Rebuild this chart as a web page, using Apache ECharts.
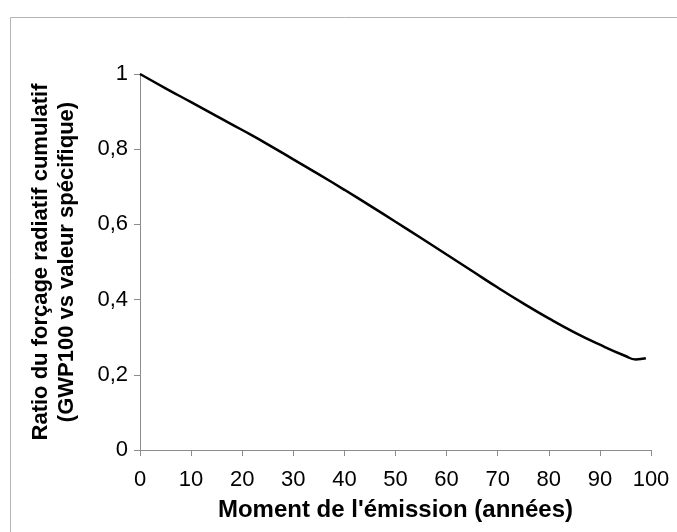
<!DOCTYPE html>
<html>
<head>
<meta charset="utf-8">
<script src="https://cdn.jsdelivr.net/npm/echarts@6/dist/echarts.min.js"></script>
<style>
  html, body { margin: 0; padding: 0; background: #fff; }
  #main { width: 677px; height: 532px; }
</style>
</head>
<body>
<div id="main"></div>
<script>
const chartDom = document.getElementById('main');
const myChart = echarts.init(chartDom);

// Moment of emission (years) and the cumulative forcing ratio
const years = [0, 5, 10, 15, 20, 25, 30, 35, 40, 45, 50, 55, 60, 65, 70, 75, 80, 85, 90, 95, 97, 99];
const ratio = [1.000, 0.962, 0.925, 0.888, 0.851, 0.813, 0.773, 0.733, 0.692, 0.650, 0.607,
               0.564, 0.520, 0.476, 0.432, 0.390, 0.350, 0.313, 0.280, 0.250, 0.241, 0.244];

const xTitle = "Moment de l'émission (années)";
const yTitle = 'Ratio du forçage radiatif cumulatif\n(GWP100 vs valeur spécifique)';

const font = 'Liberation Sans, Arial, sans-serif';
const axisGrey = '#8c8c8c';

const option = {
    animation: false,
    backgroundColor: '#fff',
    graphic: [{
        type: 'rect',
        left: 8,
        top: 15,
        shape: { width: 720, height: 600 },
        style: { fill: 'none', stroke: '#b4b4b4', lineWidth: 1 }
    }],
    grid: { left: 140, right: 26, top: 74, bottom: 82 },
    xAxis: {
        type: 'value',
        min: 0,
        max: 100,
        interval: 10,
        splitLine: { show: false },
        axisLine: { lineStyle: { color: axisGrey } },
        axisTick: { inside: false, length: 6, lineStyle: { color: axisGrey } },
        axisLabel: { color: '#000', fontFamily: font, fontSize: 22, margin: 19 },
        name: xTitle,
        nameLocation: 'middle',
        nameGap: 48,
        nameTextStyle: { color: '#000', fontFamily: font, fontSize: 24, fontWeight: 'bold' }
    },
    yAxis: {
        type: 'value',
        min: 0,
        max: 1,
        interval: 0.2,
        splitLine: { show: false },
        axisLine: { show: true, lineStyle: { color: axisGrey } },
        axisTick: { show: true, inside: false, length: 6, lineStyle: { color: axisGrey } },
        axisLabel: {
            color: '#000', fontFamily: font, fontSize: 22, margin: 12,
            formatter: v => String(Math.round(v * 10) / 10).replace('.', ',')
        },
        name: yTitle,
        nameLocation: 'middle',
        nameRotate: 90,
        nameGap: 60,
        nameTextStyle: { color: '#000', fontFamily: font, fontSize: 22, fontWeight: 'bold', lineHeight: 26 }
    },
    series: [{
        type: 'line',
        data: years.map((y, i) => [y, ratio[i]]),
        smooth: true,
        showSymbol: false,
        lineStyle: { color: '#000', width: 2.5 }
    }]
};

myChart.setOption(option);
window.onresize = () => myChart.resize();
</script>
</body>
</html>
